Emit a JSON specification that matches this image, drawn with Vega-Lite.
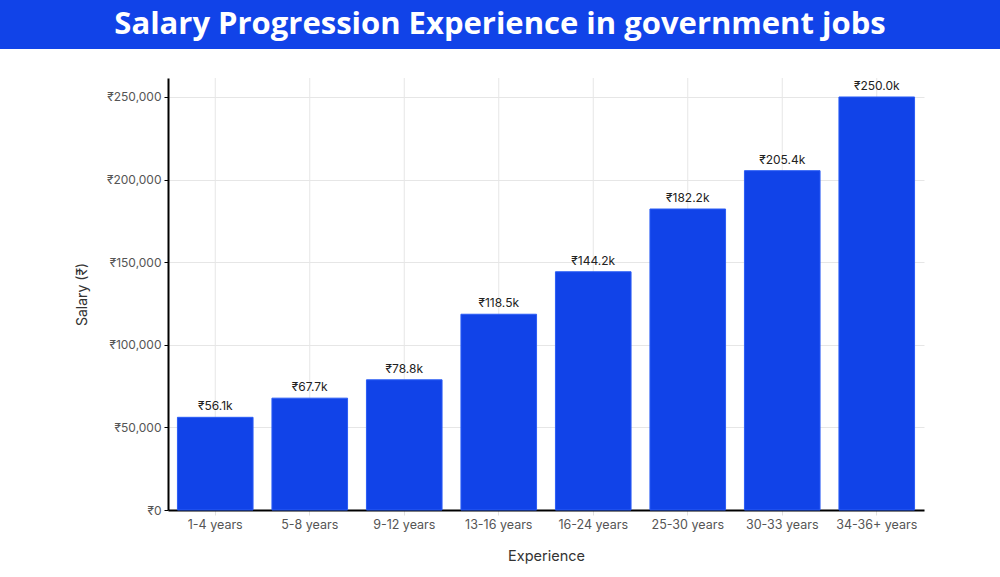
{
  "$schema": "https://vega.github.io/schema/vega-lite/v6.json",
  "width": 1000,
  "height": 528,
  "autosize": {"type": "none"},
  "padding": {"top": 49, "left": 0, "right": 0, "bottom": 0},
  "background": "#1143e8",
  "title": {
    "text": "Salary Progression Experience in government jobs",
    "color": "#ffffff",
    "font": "Open Sans",
    "fontSize": 31,
    "fontWeight": "bold",
    "anchor": "middle",
    "frame": "group",
    "baseline": "bottom",
    "offset": 8,
    "dy": 31
  },
  "data": {
    "values": [
      {"experience": "1-4 years", "salary": 56100, "label": "₹56.1k"},
      {"experience": "5-8 years", "salary": 67700, "label": "₹67.7k"},
      {"experience": "9-12 years", "salary": 78800, "label": "₹78.8k"},
      {"experience": "13-16 years", "salary": 118500, "label": "₹118.5k"},
      {"experience": "16-24 years", "salary": 144200, "label": "₹144.2k"},
      {"experience": "25-30 years", "salary": 182200, "label": "₹182.2k"},
      {"experience": "30-33 years", "salary": 205400, "label": "₹205.4k"},
      {"experience": "34-36+ years", "salary": 250000, "label": "₹250.0k"}
    ]
  },
  "encoding": {
    "x": {
      "field": "experience",
      "type": "nominal",
      "sort": null,
      "scale": {"range": [168, 924], "paddingInner": 0.2, "paddingOuter": 0.1},
      "axis": {
        "title": "Experience",
        "offset": -67,
        "labelAngle": 0,
        "labelFont": "Inter",
        "labelFontSize": 12.5,
        "labelColor": "#555555",
        "labelPadding": 3,
        "tickColor": "#e0e0e0",
        "tickSize": 5,
        "domainColor": "#000000",
        "domainWidth": 2,
        "grid": false,
        "titleFont": "Inter",
        "titleFontSize": 14.5,
        "titleFontWeight": "normal",
        "titleColor": "#333333",
        "titlePadding": 19
      }
    },
    "y": {
      "field": "salary",
      "type": "quantitative",
      "scale": {"domain": [0, 261500], "range": [461, 29], "nice": false, "zero": true},
      "axis": {
        "title": "Salary (₹)",
        "offset": -168,
        "values": [0, 50000, 100000, 150000, 200000, 250000],
        "labelExpr": "'₹' + format(datum.value, ',')",
        "labelFont": "Inter",
        "labelFontSize": 12,
        "labelColor": "#555555",
        "labelPadding": 3,
        "tickColor": "#000000",
        "tickSize": 4,
        "domainColor": "#000000",
        "domainWidth": 2,
        "grid": true,
        "gridColor": "#e6e6e6",
        "gridWidth": 1,
        "titleFont": "Inter",
        "titleFontSize": 14,
        "titleFontWeight": "normal",
        "titleColor": "#333333",
        "titlePadding": 17
      }
    }
  },
  "layer": [
    {
      "mark": {"type": "rule", "color": "#e6e6e6", "strokeWidth": 1},
      "encoding": {
        "y": {"datum": 0, "type": "quantitative"},
        "y2": {"datum": 261500}
      }
    },
    {
      "mark": {"type": "bar", "color": "#1143e8", "stroke": "#2a5cf5", "strokeWidth": 1}
    },
    {
      "mark": {"type": "text", "baseline": "bottom", "dy": -4, "font": "Inter", "fontSize": 12, "color": "#222222"},
      "encoding": {"text": {"field": "label", "type": "nominal"}}
    }
  ],
  "config": {
    "view": {"fill": "#ffffff", "stroke": null}
  }
}
